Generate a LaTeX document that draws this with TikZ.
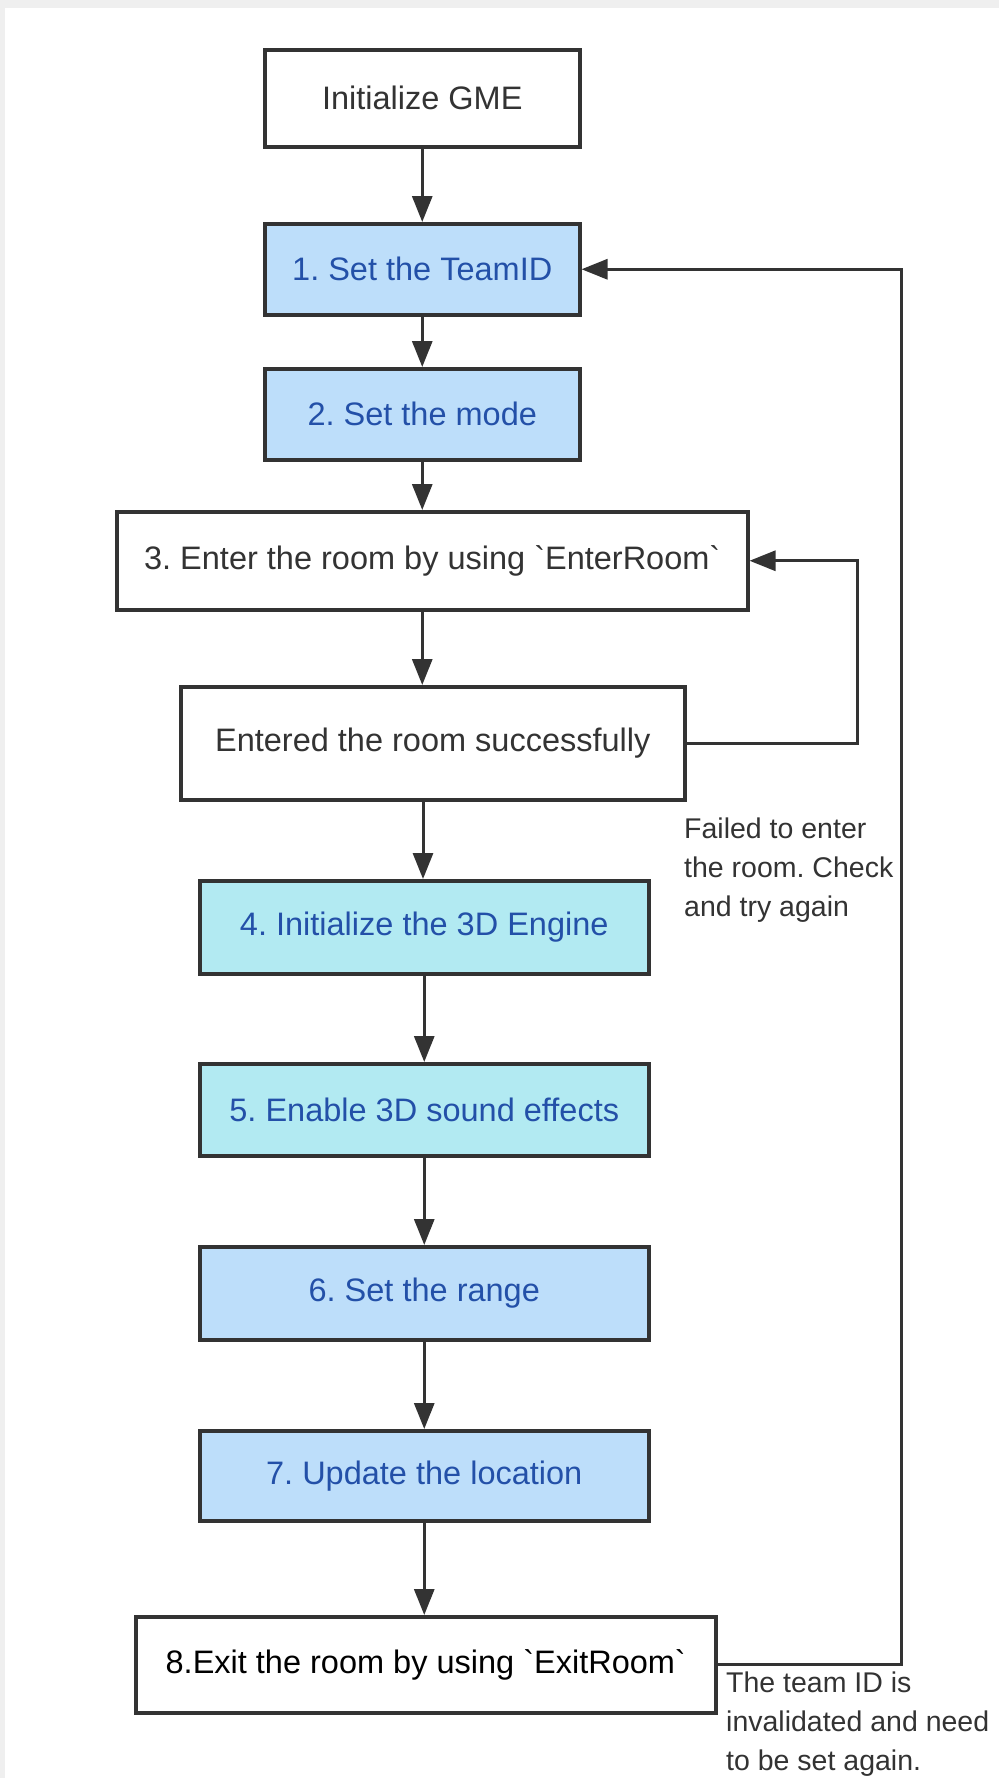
\documentclass[tikz,border=0pt]{standalone}
\usepackage{fontspec}
\setmainfont{Liberation Sans}[Ligatures=TeXOff]
\frenchspacing
\usetikzlibrary{arrows.meta}
\definecolor{txt}{HTML}{333333}
\definecolor{bluetxt}{HTML}{2350A8}
\definecolor{fillblue}{HTML}{BDDEFA}
\definecolor{fillcyan}{HTML}{B2EAF2}
\definecolor{edge}{HTML}{333333}
\definecolor{pagebg}{HTML}{EFEFEF}
\tikzset{
  box/.style={draw=edge, line width=3.5pt, text=txt, font=\fontsize{32.5}{38}\selectfont, inner sep=0pt, anchor=north west},
  bluebox/.style={box, fill=fillblue, text=bluetxt},
  cyanbox/.style={box, fill=fillcyan, text=bluetxt},
  conn/.style={draw=edge, line width=3pt, -{Triangle[length=26pt,width=20pt]}},
  note/.style={text=txt, font=\fontsize{28.5}{39}\selectfont, align=left, anchor=north west, inner sep=0pt}
}
\begin{document}
\begin{tikzpicture}[x=1pt,y=-1pt]
\fill[pagebg] (0,0) rectangle (999,1778);
\fill[white] (5,8) rectangle (999,1778);
\useasboundingbox (0,0) rectangle (999,1778);
\node[box, minimum width=315pt, minimum height=97pt] (init) at (263,48) {Initialize GME};
\node[bluebox, minimum width=315pt, minimum height=91pt] (b1) at (263,222) {1. Set the TeamID};
\node[bluebox, minimum width=315pt, minimum height=91pt] (b2) at (263,367) {2. Set the mode};
\node[box, minimum width=631pt, minimum height=98pt] (b3) at (115,510) {3. Enter the room by using `EnterRoom`};
\node[box, minimum width=504pt, minimum height=113pt] (ok) at (179,685) {Entered the room successfully};
\node[cyanbox, minimum width=449pt, minimum height=93pt] (b4) at (198,879) {4. Initialize the 3D Engine};
\node[cyanbox, minimum width=449pt, minimum height=92pt] (b5) at (198,1062) {5. Enable 3D sound effects};
\node[bluebox, minimum width=449pt, minimum height=93pt] (b6) at (198,1245) {6. Set the range};
\node[bluebox, minimum width=449pt, minimum height=90pt] (b7) at (198,1429) {7. Update the location};
\node[box, minimum width=580pt, minimum height=96pt, text=black] (b8) at (134,1615) {8.Exit the room by using `ExitRoom`};
\draw[conn] (init.south) -- (b1.north);
\draw[conn] (b1.south) -- (b2.north);
\draw[conn] (b2.south) -- (b2.south |- b3.north);
\draw[conn] (b2.south |- b3.south) -- (b2.south |- ok.north);
\draw[conn] (423,798) -- (423,879);
\draw[conn] (b4.south) -- (b5.north);
\draw[conn] (b5.south) -- (b6.north);
\draw[conn] (b6.south) -- (b7.north);
\draw[conn] (b7.south) -- (b7.south |- b8.north);
\coordinate (l1a) at (857,0);
\coordinate (l2a) at (901,0);
\draw[conn] (ok.east) -- (ok.east -| l1a) -- (b3.east -| l1a) -- (b3.east);
\draw[conn] (b8.east) -- (b8.east -| l2a) -- (b1.east -| l2a) -- (b1.east);
\node[note] (n1) at (684,818) {Failed to enter\\the room. Check\\and try again};
\node[note] (n2) at (726,1672) {The team ID is\\invalidated and need\\to be set again.};
\end{tikzpicture}
\end{document}
